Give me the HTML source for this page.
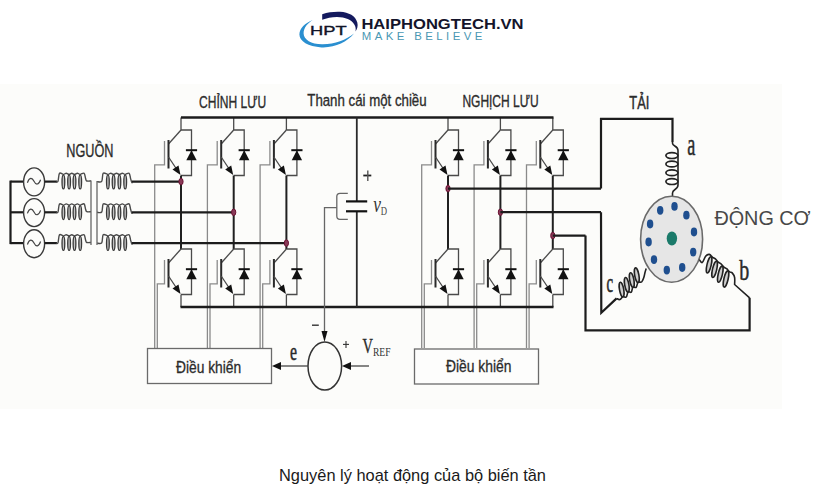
<!DOCTYPE html>
<html><head><meta charset="utf-8"><style>
html,body{margin:0;padding:0;background:#fff;}
svg{display:block;}
</style></head><body>
<svg width="825" height="500" viewBox="0 0 825 500">
<rect width="825" height="500" fill="#ffffff"/>
<rect x="0" y="84" width="782" height="325" fill="#fcfcfa"/>
<line x1="181.0" y1="117.5" x2="181.0" y2="130.0" stroke="#4a4a4a" stroke-width="1.3" />
<polyline points="181.0,175.5 191.5,175.5 191.5,130.0 181.0,130.0" fill="none" stroke="#4a4a4a" stroke-width="1.3" stroke-linejoin="miter" />
<line x1="181.0" y1="130.0" x2="168.5" y2="144.0" stroke="#4a4a4a" stroke-width="1.3" />
<line x1="168.5" y1="140.0" x2="168.5" y2="168.5" stroke="#2a2a2a" stroke-width="2" />
<polyline points="164.5,141.0 164.5,164.8 154.7,164.8 154.7,348.0" fill="none" stroke="#8a8a8a" stroke-width="1.3" stroke-linejoin="miter" />
<line x1="168.5" y1="157.0" x2="177.5" y2="170.5" stroke="#4a4a4a" stroke-width="1.3" />
<polygon points="180.5,175.0 172.5,169.5 178.5,165.5" fill="#111" stroke="none" stroke-width="0"/>
<polygon points="191.5,150.2 186.3,160.2 196.7,160.2" fill="#111" stroke="none" stroke-width="0"/>
<line x1="185.9" y1="150.2" x2="197.1" y2="150.2" stroke="#111" stroke-width="2" />
<line x1="181.0" y1="175.5" x2="181.0" y2="249.0" stroke="#202020" stroke-width="2.0" />
<polyline points="181.0,294.5 191.5,294.5 191.5,249.0 181.0,249.0" fill="none" stroke="#4a4a4a" stroke-width="1.3" stroke-linejoin="miter" />
<line x1="181.0" y1="249.0" x2="168.5" y2="263.0" stroke="#4a4a4a" stroke-width="1.3" />
<line x1="168.5" y1="259.0" x2="168.5" y2="287.5" stroke="#2a2a2a" stroke-width="2" />
<polyline points="164.5,260.0 164.5,283.8 157.3,283.8 157.3,348.0" fill="none" stroke="#8a8a8a" stroke-width="1.3" stroke-linejoin="miter" />
<line x1="168.5" y1="276.0" x2="177.5" y2="289.5" stroke="#4a4a4a" stroke-width="1.3" />
<polygon points="180.5,294.0 172.5,288.5 178.5,284.5" fill="#111" stroke="none" stroke-width="0"/>
<polygon points="191.5,269.2 186.3,279.2 196.7,279.2" fill="#111" stroke="none" stroke-width="0"/>
<line x1="185.9" y1="269.2" x2="197.1" y2="269.2" stroke="#111" stroke-width="2" />
<line x1="181.0" y1="294.5" x2="181.0" y2="307.0" stroke="#4a4a4a" stroke-width="1.3" />
<line x1="233.7" y1="117.5" x2="233.7" y2="130.0" stroke="#4a4a4a" stroke-width="1.3" />
<polyline points="233.7,175.5 244.2,175.5 244.2,130.0 233.7,130.0" fill="none" stroke="#4a4a4a" stroke-width="1.3" stroke-linejoin="miter" />
<line x1="233.7" y1="130.0" x2="221.2" y2="144.0" stroke="#4a4a4a" stroke-width="1.3" />
<line x1="221.2" y1="140.0" x2="221.2" y2="168.5" stroke="#2a2a2a" stroke-width="2" />
<polyline points="217.2,141.0 217.2,164.8 207.4,164.8 207.4,348.0" fill="none" stroke="#8a8a8a" stroke-width="1.3" stroke-linejoin="miter" />
<line x1="221.2" y1="157.0" x2="230.2" y2="170.5" stroke="#4a4a4a" stroke-width="1.3" />
<polygon points="233.2,175.0 225.2,169.5 231.2,165.5" fill="#111" stroke="none" stroke-width="0"/>
<polygon points="244.2,150.2 239.0,160.2 249.4,160.2" fill="#111" stroke="none" stroke-width="0"/>
<line x1="238.6" y1="150.2" x2="249.8" y2="150.2" stroke="#111" stroke-width="2" />
<line x1="233.7" y1="175.5" x2="233.7" y2="249.0" stroke="#202020" stroke-width="2.0" />
<polyline points="233.7,294.5 244.2,294.5 244.2,249.0 233.7,249.0" fill="none" stroke="#4a4a4a" stroke-width="1.3" stroke-linejoin="miter" />
<line x1="233.7" y1="249.0" x2="221.2" y2="263.0" stroke="#4a4a4a" stroke-width="1.3" />
<line x1="221.2" y1="259.0" x2="221.2" y2="287.5" stroke="#2a2a2a" stroke-width="2" />
<polyline points="217.2,260.0 217.2,283.8 210.0,283.8 210.0,348.0" fill="none" stroke="#8a8a8a" stroke-width="1.3" stroke-linejoin="miter" />
<line x1="221.2" y1="276.0" x2="230.2" y2="289.5" stroke="#4a4a4a" stroke-width="1.3" />
<polygon points="233.2,294.0 225.2,288.5 231.2,284.5" fill="#111" stroke="none" stroke-width="0"/>
<polygon points="244.2,269.2 239.0,279.2 249.4,279.2" fill="#111" stroke="none" stroke-width="0"/>
<line x1="238.6" y1="269.2" x2="249.8" y2="269.2" stroke="#111" stroke-width="2" />
<line x1="233.7" y1="294.5" x2="233.7" y2="307.0" stroke="#4a4a4a" stroke-width="1.3" />
<line x1="286.4" y1="117.5" x2="286.4" y2="130.0" stroke="#4a4a4a" stroke-width="1.3" />
<polyline points="286.4,175.5 296.9,175.5 296.9,130.0 286.4,130.0" fill="none" stroke="#4a4a4a" stroke-width="1.3" stroke-linejoin="miter" />
<line x1="286.4" y1="130.0" x2="273.9" y2="144.0" stroke="#4a4a4a" stroke-width="1.3" />
<line x1="273.9" y1="140.0" x2="273.9" y2="168.5" stroke="#2a2a2a" stroke-width="2" />
<polyline points="269.9,141.0 269.9,164.8 260.1,164.8 260.1,348.0" fill="none" stroke="#8a8a8a" stroke-width="1.3" stroke-linejoin="miter" />
<line x1="273.9" y1="157.0" x2="282.9" y2="170.5" stroke="#4a4a4a" stroke-width="1.3" />
<polygon points="285.9,175.0 277.9,169.5 283.9,165.5" fill="#111" stroke="none" stroke-width="0"/>
<polygon points="296.9,150.2 291.7,160.2 302.1,160.2" fill="#111" stroke="none" stroke-width="0"/>
<line x1="291.3" y1="150.2" x2="302.5" y2="150.2" stroke="#111" stroke-width="2" />
<line x1="286.4" y1="175.5" x2="286.4" y2="249.0" stroke="#202020" stroke-width="2.0" />
<polyline points="286.4,294.5 296.9,294.5 296.9,249.0 286.4,249.0" fill="none" stroke="#4a4a4a" stroke-width="1.3" stroke-linejoin="miter" />
<line x1="286.4" y1="249.0" x2="273.9" y2="263.0" stroke="#4a4a4a" stroke-width="1.3" />
<line x1="273.9" y1="259.0" x2="273.9" y2="287.5" stroke="#2a2a2a" stroke-width="2" />
<polyline points="269.9,260.0 269.9,283.8 262.7,283.8 262.7,348.0" fill="none" stroke="#8a8a8a" stroke-width="1.3" stroke-linejoin="miter" />
<line x1="273.9" y1="276.0" x2="282.9" y2="289.5" stroke="#4a4a4a" stroke-width="1.3" />
<polygon points="285.9,294.0 277.9,288.5 283.9,284.5" fill="#111" stroke="none" stroke-width="0"/>
<polygon points="296.9,269.2 291.7,279.2 302.1,279.2" fill="#111" stroke="none" stroke-width="0"/>
<line x1="291.3" y1="269.2" x2="302.5" y2="269.2" stroke="#111" stroke-width="2" />
<line x1="286.4" y1="294.5" x2="286.4" y2="307.0" stroke="#4a4a4a" stroke-width="1.3" />
<line x1="448.0" y1="117.5" x2="448.0" y2="130.0" stroke="#4a4a4a" stroke-width="1.3" />
<polyline points="448.0,175.5 458.5,175.5 458.5,130.0 448.0,130.0" fill="none" stroke="#4a4a4a" stroke-width="1.3" stroke-linejoin="miter" />
<line x1="448.0" y1="130.0" x2="435.5" y2="144.0" stroke="#4a4a4a" stroke-width="1.3" />
<line x1="435.5" y1="140.0" x2="435.5" y2="168.5" stroke="#2a2a2a" stroke-width="2" />
<polyline points="431.5,141.0 431.5,164.8 421.7,164.8 421.7,348.0" fill="none" stroke="#8a8a8a" stroke-width="1.3" stroke-linejoin="miter" />
<line x1="435.5" y1="157.0" x2="444.5" y2="170.5" stroke="#4a4a4a" stroke-width="1.3" />
<polygon points="447.5,175.0 439.5,169.5 445.5,165.5" fill="#111" stroke="none" stroke-width="0"/>
<polygon points="458.5,150.2 453.3,160.2 463.7,160.2" fill="#111" stroke="none" stroke-width="0"/>
<line x1="452.9" y1="150.2" x2="464.1" y2="150.2" stroke="#111" stroke-width="2" />
<line x1="448.0" y1="175.5" x2="448.0" y2="249.0" stroke="#202020" stroke-width="2.0" />
<polyline points="448.0,294.5 458.5,294.5 458.5,249.0 448.0,249.0" fill="none" stroke="#4a4a4a" stroke-width="1.3" stroke-linejoin="miter" />
<line x1="448.0" y1="249.0" x2="435.5" y2="263.0" stroke="#4a4a4a" stroke-width="1.3" />
<line x1="435.5" y1="259.0" x2="435.5" y2="287.5" stroke="#2a2a2a" stroke-width="2" />
<polyline points="431.5,260.0 431.5,283.8 424.3,283.8 424.3,348.0" fill="none" stroke="#8a8a8a" stroke-width="1.3" stroke-linejoin="miter" />
<line x1="435.5" y1="276.0" x2="444.5" y2="289.5" stroke="#4a4a4a" stroke-width="1.3" />
<polygon points="447.5,294.0 439.5,288.5 445.5,284.5" fill="#111" stroke="none" stroke-width="0"/>
<polygon points="458.5,269.2 453.3,279.2 463.7,279.2" fill="#111" stroke="none" stroke-width="0"/>
<line x1="452.9" y1="269.2" x2="464.1" y2="269.2" stroke="#111" stroke-width="2" />
<line x1="448.0" y1="294.5" x2="448.0" y2="307.0" stroke="#4a4a4a" stroke-width="1.3" />
<line x1="500.4" y1="117.5" x2="500.4" y2="130.0" stroke="#4a4a4a" stroke-width="1.3" />
<polyline points="500.4,175.5 510.9,175.5 510.9,130.0 500.4,130.0" fill="none" stroke="#4a4a4a" stroke-width="1.3" stroke-linejoin="miter" />
<line x1="500.4" y1="130.0" x2="487.9" y2="144.0" stroke="#4a4a4a" stroke-width="1.3" />
<line x1="487.9" y1="140.0" x2="487.9" y2="168.5" stroke="#2a2a2a" stroke-width="2" />
<polyline points="483.9,141.0 483.9,164.8 474.1,164.8 474.1,348.0" fill="none" stroke="#8a8a8a" stroke-width="1.3" stroke-linejoin="miter" />
<line x1="487.9" y1="157.0" x2="496.9" y2="170.5" stroke="#4a4a4a" stroke-width="1.3" />
<polygon points="499.9,175.0 491.9,169.5 497.9,165.5" fill="#111" stroke="none" stroke-width="0"/>
<polygon points="510.9,150.2 505.7,160.2 516.1,160.2" fill="#111" stroke="none" stroke-width="0"/>
<line x1="505.3" y1="150.2" x2="516.5" y2="150.2" stroke="#111" stroke-width="2" />
<line x1="500.4" y1="175.5" x2="500.4" y2="249.0" stroke="#202020" stroke-width="2.0" />
<polyline points="500.4,294.5 510.9,294.5 510.9,249.0 500.4,249.0" fill="none" stroke="#4a4a4a" stroke-width="1.3" stroke-linejoin="miter" />
<line x1="500.4" y1="249.0" x2="487.9" y2="263.0" stroke="#4a4a4a" stroke-width="1.3" />
<line x1="487.9" y1="259.0" x2="487.9" y2="287.5" stroke="#2a2a2a" stroke-width="2" />
<polyline points="483.9,260.0 483.9,283.8 476.7,283.8 476.7,348.0" fill="none" stroke="#8a8a8a" stroke-width="1.3" stroke-linejoin="miter" />
<line x1="487.9" y1="276.0" x2="496.9" y2="289.5" stroke="#4a4a4a" stroke-width="1.3" />
<polygon points="499.9,294.0 491.9,288.5 497.9,284.5" fill="#111" stroke="none" stroke-width="0"/>
<polygon points="510.9,269.2 505.7,279.2 516.1,279.2" fill="#111" stroke="none" stroke-width="0"/>
<line x1="505.3" y1="269.2" x2="516.5" y2="269.2" stroke="#111" stroke-width="2" />
<line x1="500.4" y1="294.5" x2="500.4" y2="307.0" stroke="#4a4a4a" stroke-width="1.3" />
<line x1="552.8" y1="117.5" x2="552.8" y2="130.0" stroke="#4a4a4a" stroke-width="1.3" />
<polyline points="552.8,175.5 563.3,175.5 563.3,130.0 552.8,130.0" fill="none" stroke="#4a4a4a" stroke-width="1.3" stroke-linejoin="miter" />
<line x1="552.8" y1="130.0" x2="540.3" y2="144.0" stroke="#4a4a4a" stroke-width="1.3" />
<line x1="540.3" y1="140.0" x2="540.3" y2="168.5" stroke="#2a2a2a" stroke-width="2" />
<polyline points="536.3,141.0 536.3,164.8 526.5,164.8 526.5,348.0" fill="none" stroke="#8a8a8a" stroke-width="1.3" stroke-linejoin="miter" />
<line x1="540.3" y1="157.0" x2="549.3" y2="170.5" stroke="#4a4a4a" stroke-width="1.3" />
<polygon points="552.3,175.0 544.3,169.5 550.3,165.5" fill="#111" stroke="none" stroke-width="0"/>
<polygon points="563.3,150.2 558.1,160.2 568.5,160.2" fill="#111" stroke="none" stroke-width="0"/>
<line x1="557.7" y1="150.2" x2="568.9" y2="150.2" stroke="#111" stroke-width="2" />
<line x1="552.8" y1="175.5" x2="552.8" y2="249.0" stroke="#202020" stroke-width="2.0" />
<polyline points="552.8,294.5 563.3,294.5 563.3,249.0 552.8,249.0" fill="none" stroke="#4a4a4a" stroke-width="1.3" stroke-linejoin="miter" />
<line x1="552.8" y1="249.0" x2="540.3" y2="263.0" stroke="#4a4a4a" stroke-width="1.3" />
<line x1="540.3" y1="259.0" x2="540.3" y2="287.5" stroke="#2a2a2a" stroke-width="2" />
<polyline points="536.3,260.0 536.3,283.8 529.1,283.8 529.1,348.0" fill="none" stroke="#8a8a8a" stroke-width="1.3" stroke-linejoin="miter" />
<line x1="540.3" y1="276.0" x2="549.3" y2="289.5" stroke="#4a4a4a" stroke-width="1.3" />
<polygon points="552.3,294.0 544.3,288.5 550.3,284.5" fill="#111" stroke="none" stroke-width="0"/>
<polygon points="563.3,269.2 558.1,279.2 568.5,279.2" fill="#111" stroke="none" stroke-width="0"/>
<line x1="557.7" y1="269.2" x2="568.9" y2="269.2" stroke="#111" stroke-width="2" />
<line x1="552.8" y1="294.5" x2="552.8" y2="307.0" stroke="#4a4a4a" stroke-width="1.3" />
<line x1="181.0" y1="117.5" x2="553.5" y2="117.5" stroke="#1c1c1c" stroke-width="2.4" />
<line x1="180.5" y1="307.0" x2="553.5" y2="307.0" stroke="#1c1c1c" stroke-width="2.4" />
<line x1="10.5" y1="180.6" x2="10.5" y2="244.1" stroke="#1c1c1c" stroke-width="2.2" />
<line x1="10.5" y1="181.6" x2="23.5" y2="181.6" stroke="#1c1c1c" stroke-width="2.2" />
<ellipse cx="34.1" cy="181.9" rx="10.5" ry="14" fill="none" stroke="#3a3a3a" stroke-width="1.4"/>
<path d="M27.4,182.7 c2,-5.5 4.6,-5.5 6.6,-1.5 s4.6,4 6.6,-1.5" fill="none" stroke="#444" stroke-width="1.2"/>
<line x1="44.6" y1="181.6" x2="57.0" y2="181.6" stroke="#1c1c1c" stroke-width="2.2" />
<line x1="10.5" y1="212.3" x2="23.5" y2="212.3" stroke="#1c1c1c" stroke-width="2.2" />
<ellipse cx="34.1" cy="212.6" rx="10.5" ry="14" fill="none" stroke="#3a3a3a" stroke-width="1.4"/>
<path d="M27.4,213.4 c2,-5.5 4.6,-5.5 6.6,-1.5 s4.6,4 6.6,-1.5" fill="none" stroke="#444" stroke-width="1.2"/>
<line x1="44.6" y1="212.3" x2="57.0" y2="212.3" stroke="#1c1c1c" stroke-width="2.2" />
<line x1="10.5" y1="243.1" x2="23.5" y2="243.1" stroke="#1c1c1c" stroke-width="2.2" />
<ellipse cx="34.1" cy="243.7" rx="10.5" ry="14" fill="none" stroke="#3a3a3a" stroke-width="1.4"/>
<path d="M27.4,244.5 c2,-5.5 4.6,-5.5 6.6,-1.5 s4.6,4 6.6,-1.5" fill="none" stroke="#444" stroke-width="1.2"/>
<line x1="44.6" y1="243.1" x2="57.0" y2="243.1" stroke="#1c1c1c" stroke-width="2.2" />
<path d="M56.20,181.60 C56.50,181.55 57.45,182.68 58.00,181.30 C58.55,179.92 58.60,174.45 59.50,173.30 C60.40,172.15 62.27,174.42 63.40,174.40 C64.53,174.38 65.30,173.20 66.25,173.20 C67.20,173.20 68.17,174.40 69.10,174.40 C70.02,174.40 70.90,173.20 71.80,173.20 C72.70,173.20 73.58,174.40 74.50,174.40 C75.42,174.40 76.40,173.20 77.35,173.20 C78.30,173.20 79.08,174.40 80.20,174.40 C81.33,174.40 83.20,172.50 84.10,173.20 C85.00,173.90 85.15,177.30 85.60,178.60 C86.05,179.90 85.90,180.60 86.80,181.00 C87.70,181.40 90.30,181.00 91.00,181.00" fill="none" stroke="#4a4a4a" stroke-width="1.4"/>
<ellipse cx="63.4" cy="181.9" rx="1.35" ry="7.0" fill="#c4c4c4" stroke="#3a3a3a" stroke-width="1.35"/>
<ellipse cx="69.1" cy="181.9" rx="1.35" ry="7.0" fill="#c4c4c4" stroke="#3a3a3a" stroke-width="1.35"/>
<ellipse cx="74.5" cy="181.9" rx="1.35" ry="7.0" fill="#c4c4c4" stroke="#3a3a3a" stroke-width="1.35"/>
<ellipse cx="80.2" cy="181.9" rx="1.35" ry="7.0" fill="#c4c4c4" stroke="#3a3a3a" stroke-width="1.35"/>
<path d="M97.00,181.60 C97.78,181.55 100.67,182.68 101.70,181.30 C102.73,179.92 102.17,174.45 103.20,173.30 C104.23,172.15 106.64,174.42 107.90,174.40 C109.16,174.38 109.80,173.20 110.75,173.20 C111.70,173.20 112.64,174.40 113.60,174.40 C114.56,174.40 115.53,173.20 116.50,173.20 C117.47,173.20 118.43,174.40 119.40,174.40 C120.37,174.40 121.33,173.20 122.30,173.20 C123.27,173.20 124.07,174.40 125.20,174.40 C126.33,174.40 128.20,172.50 129.10,173.20 C130.00,173.90 130.15,177.07 130.60,178.60 C131.05,180.13 131.48,181.77 131.80,182.40 C132.12,183.03 132.38,182.40 132.50,182.40" fill="none" stroke="#4a4a4a" stroke-width="1.4"/>
<ellipse cx="107.9" cy="181.9" rx="1.35" ry="7.0" fill="#c4c4c4" stroke="#3a3a3a" stroke-width="1.35"/>
<ellipse cx="113.6" cy="181.9" rx="1.35" ry="7.0" fill="#c4c4c4" stroke="#3a3a3a" stroke-width="1.35"/>
<ellipse cx="119.4" cy="181.9" rx="1.35" ry="7.0" fill="#c4c4c4" stroke="#3a3a3a" stroke-width="1.35"/>
<ellipse cx="125.2" cy="181.9" rx="1.35" ry="7.0" fill="#c4c4c4" stroke="#3a3a3a" stroke-width="1.35"/>
<path d="M56.20,212.30 C56.50,212.25 57.45,213.38 58.00,212.00 C58.55,210.62 58.60,205.15 59.50,204.00 C60.40,202.85 62.27,205.12 63.40,205.10 C64.53,205.08 65.30,203.90 66.25,203.90 C67.20,203.90 68.17,205.10 69.10,205.10 C70.02,205.10 70.90,203.90 71.80,203.90 C72.70,203.90 73.58,205.10 74.50,205.10 C75.42,205.10 76.40,203.90 77.35,203.90 C78.30,203.90 79.08,205.10 80.20,205.10 C81.33,205.10 83.20,203.20 84.10,203.90 C85.00,204.60 85.15,208.00 85.60,209.30 C86.05,210.60 85.90,211.30 86.80,211.70 C87.70,212.10 90.30,211.70 91.00,211.70" fill="none" stroke="#4a4a4a" stroke-width="1.4"/>
<ellipse cx="63.4" cy="212.6" rx="1.35" ry="7.0" fill="#c4c4c4" stroke="#3a3a3a" stroke-width="1.35"/>
<ellipse cx="69.1" cy="212.6" rx="1.35" ry="7.0" fill="#c4c4c4" stroke="#3a3a3a" stroke-width="1.35"/>
<ellipse cx="74.5" cy="212.6" rx="1.35" ry="7.0" fill="#c4c4c4" stroke="#3a3a3a" stroke-width="1.35"/>
<ellipse cx="80.2" cy="212.6" rx="1.35" ry="7.0" fill="#c4c4c4" stroke="#3a3a3a" stroke-width="1.35"/>
<path d="M97.00,212.30 C97.78,212.25 100.67,213.38 101.70,212.00 C102.73,210.62 102.17,205.15 103.20,204.00 C104.23,202.85 106.64,205.12 107.90,205.10 C109.16,205.08 109.80,203.90 110.75,203.90 C111.70,203.90 112.64,205.10 113.60,205.10 C114.56,205.10 115.53,203.90 116.50,203.90 C117.47,203.90 118.43,205.10 119.40,205.10 C120.37,205.10 121.33,203.90 122.30,203.90 C123.27,203.90 124.07,205.10 125.20,205.10 C126.33,205.10 128.20,203.20 129.10,203.90 C130.00,204.60 130.15,207.77 130.60,209.30 C131.05,210.83 131.48,212.47 131.80,213.10 C132.12,213.73 132.38,213.10 132.50,213.10" fill="none" stroke="#4a4a4a" stroke-width="1.4"/>
<ellipse cx="107.9" cy="212.6" rx="1.35" ry="7.0" fill="#c4c4c4" stroke="#3a3a3a" stroke-width="1.35"/>
<ellipse cx="113.6" cy="212.6" rx="1.35" ry="7.0" fill="#c4c4c4" stroke="#3a3a3a" stroke-width="1.35"/>
<ellipse cx="119.4" cy="212.6" rx="1.35" ry="7.0" fill="#c4c4c4" stroke="#3a3a3a" stroke-width="1.35"/>
<ellipse cx="125.2" cy="212.6" rx="1.35" ry="7.0" fill="#c4c4c4" stroke="#3a3a3a" stroke-width="1.35"/>
<path d="M56.20,243.10 C56.50,243.05 57.45,244.18 58.00,242.80 C58.55,241.42 58.60,235.95 59.50,234.80 C60.40,233.65 62.27,235.92 63.40,235.90 C64.53,235.88 65.30,234.70 66.25,234.70 C67.20,234.70 68.17,235.90 69.10,235.90 C70.02,235.90 70.90,234.70 71.80,234.70 C72.70,234.70 73.58,235.90 74.50,235.90 C75.42,235.90 76.40,234.70 77.35,234.70 C78.30,234.70 79.08,235.90 80.20,235.90 C81.33,235.90 83.20,234.00 84.10,234.70 C85.00,235.40 85.15,238.80 85.60,240.10 C86.05,241.40 85.90,242.10 86.80,242.50 C87.70,242.90 90.30,242.50 91.00,242.50" fill="none" stroke="#4a4a4a" stroke-width="1.4"/>
<ellipse cx="63.4" cy="243.4" rx="1.35" ry="7.0" fill="#c4c4c4" stroke="#3a3a3a" stroke-width="1.35"/>
<ellipse cx="69.1" cy="243.4" rx="1.35" ry="7.0" fill="#c4c4c4" stroke="#3a3a3a" stroke-width="1.35"/>
<ellipse cx="74.5" cy="243.4" rx="1.35" ry="7.0" fill="#c4c4c4" stroke="#3a3a3a" stroke-width="1.35"/>
<ellipse cx="80.2" cy="243.4" rx="1.35" ry="7.0" fill="#c4c4c4" stroke="#3a3a3a" stroke-width="1.35"/>
<path d="M97.00,243.10 C97.78,243.05 100.67,244.18 101.70,242.80 C102.73,241.42 102.17,235.95 103.20,234.80 C104.23,233.65 106.64,235.92 107.90,235.90 C109.16,235.88 109.80,234.70 110.75,234.70 C111.70,234.70 112.64,235.90 113.60,235.90 C114.56,235.90 115.53,234.70 116.50,234.70 C117.47,234.70 118.43,235.90 119.40,235.90 C120.37,235.90 121.33,234.70 122.30,234.70 C123.27,234.70 124.07,235.90 125.20,235.90 C126.33,235.90 128.20,234.00 129.10,234.70 C130.00,235.40 130.15,238.57 130.60,240.10 C131.05,241.63 131.48,243.27 131.80,243.90 C132.12,244.53 132.38,243.90 132.50,243.90" fill="none" stroke="#4a4a4a" stroke-width="1.4"/>
<ellipse cx="107.9" cy="243.4" rx="1.35" ry="7.0" fill="#c4c4c4" stroke="#3a3a3a" stroke-width="1.35"/>
<ellipse cx="113.6" cy="243.4" rx="1.35" ry="7.0" fill="#c4c4c4" stroke="#3a3a3a" stroke-width="1.35"/>
<ellipse cx="119.4" cy="243.4" rx="1.35" ry="7.0" fill="#c4c4c4" stroke="#3a3a3a" stroke-width="1.35"/>
<ellipse cx="125.2" cy="243.4" rx="1.35" ry="7.0" fill="#c4c4c4" stroke="#3a3a3a" stroke-width="1.35"/>
<line x1="91.0" y1="180.6" x2="91.0" y2="245.1" stroke="#666" stroke-width="1.3" />
<line x1="97.0" y1="181.1" x2="97.0" y2="245.1" stroke="#666" stroke-width="1.3" />
<line x1="132.0" y1="181.6" x2="181.0" y2="181.6" stroke="#1c1c1c" stroke-width="2.2" />
<ellipse cx="181" cy="181.6" rx="2.1" ry="3.3" fill="#8a3a58" stroke="#6a1232" stroke-width="1"/>
<line x1="132.0" y1="212.3" x2="233.7" y2="212.3" stroke="#1c1c1c" stroke-width="2.2" />
<ellipse cx="233.7" cy="212.3" rx="2.1" ry="3.3" fill="#8a3a58" stroke="#6a1232" stroke-width="1"/>
<line x1="132.0" y1="243.1" x2="286.4" y2="243.1" stroke="#1c1c1c" stroke-width="2.2" />
<ellipse cx="286.4" cy="243.1" rx="2.1" ry="3.3" fill="#8a3a58" stroke="#6a1232" stroke-width="1"/>
<line x1="356.8" y1="117.5" x2="356.8" y2="201.0" stroke="#2a2a2a" stroke-width="1.8" />
<line x1="356.8" y1="211.5" x2="356.8" y2="307.0" stroke="#2a2a2a" stroke-width="1.8" />
<line x1="346.0" y1="201.4" x2="367.2" y2="201.4" stroke="#111" stroke-width="2.2" />
<line x1="346.0" y1="211.3" x2="367.2" y2="211.3" stroke="#111" stroke-width="2.2" />
<path d="M347.8,193.3 H340 Q336.8,193.3 336.8,196.5 V216 Q336.8,219.4 340,219.4 H347.8" fill="none" stroke="#666" stroke-width="1.3"/>
<polyline points="336.8,207.7 324.5,207.7 324.5,333.0" fill="none" stroke="#666" stroke-width="1.3" stroke-linejoin="miter" />
<polygon points="324.5,342.0 321.5,331.0 327.5,331.0" fill="#111" stroke="none" stroke-width="0"/>
<ellipse cx="448" cy="188.6" rx="2.1" ry="3.3" fill="#8a3a58" stroke="#6a1232" stroke-width="1"/>
<ellipse cx="500.4" cy="212.2" rx="2.1" ry="3.3" fill="#8a3a58" stroke="#6a1232" stroke-width="1"/>
<ellipse cx="552.8" cy="235.6" rx="2.1" ry="3.3" fill="#8a3a58" stroke="#6a1232" stroke-width="1"/>
<line x1="448.0" y1="188.6" x2="601.0" y2="188.6" stroke="#1c1c1c" stroke-width="2.2" />
<polyline points="601.0,188.6 601.0,118.8 672.5,118.8 672.5,142.0" fill="none" stroke="#1c1c1c" stroke-width="2.2" stroke-linejoin="miter" />
<line x1="500.4" y1="212.2" x2="601.0" y2="212.2" stroke="#1c1c1c" stroke-width="2.2" />
<polyline points="601.0,212.2 601.3,312.8 616.6,298.4" fill="none" stroke="#1c1c1c" stroke-width="2.2" stroke-linejoin="miter" />
<line x1="552.8" y1="235.6" x2="585.5" y2="235.6" stroke="#1c1c1c" stroke-width="2.2" />
<polyline points="585.5,235.6 585.5,330.4 749.6,330.4 749.6,297.8" fill="none" stroke="#1c1c1c" stroke-width="2.2" stroke-linejoin="miter" />
<path d="M672.5,142 L672.5,143.3 C672.5,146.5 678,145.5 678,150.5 L678,185 C678,190 672.5,189 672.5,193 L672.5,197" fill="none" stroke="#222" stroke-width="1.6"/>
<ellipse cx="671.9" cy="155.6" rx="6" ry="2.9" fill="none" stroke="#222" stroke-width="1.7"/>
<ellipse cx="671.9" cy="164.0" rx="6" ry="2.9" fill="none" stroke="#222" stroke-width="1.7"/>
<ellipse cx="671.9" cy="172.7" rx="6" ry="2.9" fill="none" stroke="#222" stroke-width="1.7"/>
<ellipse cx="671.9" cy="181.6" rx="6" ry="2.9" fill="none" stroke="#222" stroke-width="1.7"/>
<path d="M698.60,258.80 C699.20,259.43 701.03,263.03 702.20,262.60 C703.37,262.17 704.42,257.57 705.60,256.20 C706.78,254.83 708.13,254.22 709.30,254.40 C710.47,254.58 711.58,256.55 712.60,257.30 C713.62,258.05 714.47,258.08 715.40,258.90 C716.33,259.72 717.27,261.38 718.20,262.20 C719.13,263.02 720.05,262.98 721.00,263.80 C721.95,264.62 722.97,266.28 723.90,267.10 C724.83,267.92 725.65,267.92 726.60,268.70 C727.55,269.48 728.67,271.10 729.60,271.80 C730.53,272.50 731.37,271.95 732.20,272.90 C733.03,273.85 734.20,275.57 734.60,277.50 C735.00,279.43 734.60,283.33 734.60,284.50 L749.6,297.8" fill="none" stroke="#222" stroke-width="1.6"/>
<ellipse cx="709.1" cy="264.9" rx="2.1" ry="8.3" transform="rotate(13 709.1 264.9)" fill="#cfcfcf" stroke="#222" stroke-width="1.6"/>
<ellipse cx="714.6" cy="269.4" rx="2.1" ry="8.3" transform="rotate(13 714.6 269.4)" fill="#cfcfcf" stroke="#222" stroke-width="1.6"/>
<ellipse cx="720.3" cy="274.2" rx="2.1" ry="8.3" transform="rotate(13 720.3 274.2)" fill="#cfcfcf" stroke="#222" stroke-width="1.6"/>
<ellipse cx="726" cy="279" rx="2.1" ry="8.3" transform="rotate(13 726 279)" fill="#cfcfcf" stroke="#222" stroke-width="1.6"/>
<path d="M616.60,298.40 C617.13,298.60 618.75,299.88 619.80,299.60 C620.85,299.32 621.82,297.13 622.90,296.70 C623.98,296.27 625.43,297.80 626.30,297.00 C627.17,296.20 627.27,292.70 628.10,291.90 C628.93,291.10 630.50,293.00 631.30,292.20 C632.10,291.40 632.10,287.90 632.90,287.10 C633.70,286.30 635.23,288.20 636.10,287.40 C636.97,286.60 637.18,283.20 638.10,282.30 C639.02,281.40 640.65,282.80 641.60,282.00 C642.55,281.20 643.23,279.08 643.80,277.50 C644.37,275.92 644.60,274.00 645.00,272.50 C645.40,271.00 646.00,269.17 646.20,268.50" fill="none" stroke="#222" stroke-width="1.6"/>
<ellipse cx="621.6" cy="289.6" rx="2.1" ry="7.4" transform="rotate(-10 621.6 289.6)" fill="#cfcfcf" stroke="#222" stroke-width="1.6"/>
<ellipse cx="626.8" cy="284.8" rx="2.1" ry="7.4" transform="rotate(-10 626.8 284.8)" fill="#cfcfcf" stroke="#222" stroke-width="1.6"/>
<ellipse cx="631.8" cy="280.0" rx="2.1" ry="7.4" transform="rotate(-10 631.8 280.0)" fill="#cfcfcf" stroke="#222" stroke-width="1.6"/>
<ellipse cx="636.8" cy="275.2" rx="2.1" ry="7.4" transform="rotate(-10 636.8 275.2)" fill="#cfcfcf" stroke="#222" stroke-width="1.6"/>
<ellipse cx="671.6" cy="239.2" rx="31" ry="43" fill="#e6e6e6" stroke="#6a6a6a" stroke-width="1.6"/>
<ellipse cx="674.5" cy="206.4" rx="3.2" ry="4.4" fill="#1f4f8f"/>
<ellipse cx="660.2" cy="210.3" rx="3.2" ry="4.4" fill="#1f4f8f"/>
<ellipse cx="686.4" cy="215.2" rx="3.2" ry="4.4" fill="#1f4f8f"/>
<ellipse cx="650.1" cy="224" rx="3.2" ry="4.4" fill="#1f4f8f"/>
<ellipse cx="694" cy="232" rx="3.2" ry="4.4" fill="#1f4f8f"/>
<ellipse cx="648.6" cy="242" rx="3.2" ry="4.4" fill="#1f4f8f"/>
<ellipse cx="693.2" cy="252.1" rx="3.2" ry="4.4" fill="#1f4f8f"/>
<ellipse cx="654" cy="259.6" rx="3.2" ry="4.4" fill="#1f4f8f"/>
<ellipse cx="682.2" cy="267.5" rx="3.2" ry="4.4" fill="#1f4f8f"/>
<ellipse cx="666.8" cy="270.1" rx="3.2" ry="4.4" fill="#1f4f8f"/>
<ellipse cx="671.9" cy="238.5" rx="5.2" ry="7" fill="#1b7a6a"/>
<rect x="147.5" y="348.5" width="124" height="35" fill="#fdfdfc" stroke="#6a6a6a" stroke-width="1.3"/>
<rect x="414.5" y="349" width="124" height="35" fill="#fdfdfc" stroke="#6a6a6a" stroke-width="1.3"/>
<ellipse cx="324.8" cy="366" rx="16.8" ry="24" fill="none" stroke="#333" stroke-width="1.5"/>
<line x1="308.0" y1="366.0" x2="280.0" y2="366.0" stroke="#444" stroke-width="1.3" />
<polygon points="272.0,366.0 281.0,362.0 281.0,370.0" fill="#111" stroke="none" stroke-width="0"/>
<line x1="369.0" y1="366.0" x2="350.0" y2="366.0" stroke="#444" stroke-width="1.3" />
<polygon points="342.0,366.0 351.0,362.0 351.0,370.0" fill="#111" stroke="none" stroke-width="0"/>
<text x="199.0" y="107.7" font-family="Liberation Sans" font-size="16.7" fill="#2b2b2b" stroke="#2b2b2b" stroke-width="0.35" textLength="67.2" lengthAdjust="spacingAndGlyphs" >CHỈNH LƯU</text>
<text x="307.3" y="106.3" font-family="Liberation Sans" font-size="16.7" fill="#2b2b2b" stroke="#2b2b2b" stroke-width="0.35" textLength="119.3" lengthAdjust="spacingAndGlyphs" >Thanh cái một chiều</text>
<text x="462.4" y="106.6" font-family="Liberation Sans" font-size="16.4" fill="#2b2b2b" stroke="#2b2b2b" stroke-width="0.35" textLength="76.2" lengthAdjust="spacingAndGlyphs" >NGHỊCH LƯU</text>
<text x="66.3" y="156.7" font-family="Liberation Sans" font-size="17.7" fill="#2b2b2b" stroke="#2b2b2b" stroke-width="0.35" textLength="47.2" lengthAdjust="spacingAndGlyphs" >NGUỒN</text>
<text x="629.3" y="109.2" font-family="Liberation Sans" font-size="17.6" fill="#2b2b2b" stroke="#2b2b2b" stroke-width="0.45" textLength="20" lengthAdjust="spacingAndGlyphs" >TẢI</text>
<text x="714.4" y="225.3" font-family="Liberation Sans" font-size="20.9" fill="#484848" textLength="96.2" lengthAdjust="spacingAndGlyphs" >ĐỘNG CƠ</text>
<text x="176.0" y="372.9" font-family="Liberation Sans" font-size="17" fill="#2b2b2b" stroke="#2b2b2b" stroke-width="0.3" textLength="65.2" lengthAdjust="spacingAndGlyphs" >Điều khiển</text>
<text x="446.0" y="372.3" font-family="Liberation Sans" font-size="17" fill="#2b2b2b" stroke="#2b2b2b" stroke-width="0.3" textLength="65.5" lengthAdjust="spacingAndGlyphs" >Điều khiển</text>
<text x="687.3" y="154.8" font-family="Liberation Serif" font-size="31" fill="#2a2a2a" stroke="#2a2a2a" stroke-width="0.5" textLength="8.1" lengthAdjust="spacingAndGlyphs" >a</text>
<text x="739.2" y="279.6" font-family="Liberation Serif" font-size="29" fill="#2a2a2a" stroke="#2a2a2a" stroke-width="0.5" textLength="10" lengthAdjust="spacingAndGlyphs" >b</text>
<text x="606.4" y="291.8" font-family="Liberation Serif" font-size="27" fill="#2a2a2a" stroke="#2a2a2a" stroke-width="0.6" textLength="6.6" lengthAdjust="spacingAndGlyphs" >c</text>
<text x="290.1" y="359.8" font-family="Liberation Serif" font-size="24.5" fill="#2a2a2a" stroke="#2a2a2a" stroke-width="0.5" textLength="7" lengthAdjust="spacingAndGlyphs" >e</text>
<text x="362.5" y="352.5" font-family="Liberation Serif" font-size="21" fill="#2a2a2a" stroke="#2a2a2a" stroke-width="0.35" textLength="10.4" lengthAdjust="spacingAndGlyphs" >V</text>
<text x="372.9" y="355.7" font-family="Liberation Serif" font-size="13" fill="#333" textLength="17.6" lengthAdjust="spacingAndGlyphs" >REF</text>
<text x="373.3" y="212.4" font-family="Liberation Serif" font-size="23" fill="#333" textLength="7.7" lengthAdjust="spacingAndGlyphs" font-style="italic">v</text>
<text x="380.7" y="214.5" font-family="Liberation Serif" font-size="12" fill="#444" textLength="6.3" lengthAdjust="spacingAndGlyphs" >D</text>
<line x1="363.3" y1="175.5" x2="371.3" y2="175.5" stroke="#222" stroke-width="1.8" />
<line x1="367.8" y1="170.5" x2="367.8" y2="181.0" stroke="#555" stroke-width="1.4" />
<line x1="343.0" y1="344.4" x2="349.0" y2="344.4" stroke="#333" stroke-width="1.1" />
<line x1="346.0" y1="341.0" x2="346.0" y2="348.0" stroke="#333" stroke-width="1.1" />
<line x1="312.0" y1="325.2" x2="318.8" y2="325.2" stroke="#333" stroke-width="1.4" />
<text x="279.0" y="480.7" font-family="Liberation Sans" font-size="16.6" fill="#1a1a1a" textLength="267" lengthAdjust="spacingAndGlyphs" >Nguyên lý hoạt động của bộ biến tần</text>
<path d="M322.2,14.2 C328,12.2 334,11.6 340,11.8 C349,12.3 355.5,16 357.3,22.5 C358.2,26 357.2,29 355.5,31.5 C356,28.5 355.6,26.3 354.3,24.4 C351.5,19.6 345.5,17 337,16.9 C331.5,16.9 326.5,18 322.2,19.8 Z" fill="#141a5e"/>
<path d="M312.8,20.1 C305,23 299.5,28.5 299.4,34.6 C299.5,41.5 308,46.6 321.5,47.4 C335,48 347,42 354,33.6 C346,40 334.5,44.5 322,44.3 C311,44 303.8,39.5 303.6,33.4 C303.6,28 307.5,23.2 312.8,20.1 Z" fill="#2a8fd0"/>
<text x="310" y="34.6" font-family="Liberation Sans" font-size="12.4" fill="#111428" stroke="#111428" stroke-width="0.35" textLength="36.6" lengthAdjust="spacingAndGlyphs" >HPT</text>
<text x="361.4" y="28.7" font-family="Liberation Sans" font-size="14" fill="#14142b" textLength="162.2" lengthAdjust="spacingAndGlyphs" font-weight="bold">HAIPHONGTECH.VN</text>
<text x="361.8" y="40.3" font-family="Liberation Sans" font-size="11.4" fill="#4a97b3" textLength="120.5" lengthAdjust="spacing" >MAKE BELIEVE</text>
</svg>
</body></html>
